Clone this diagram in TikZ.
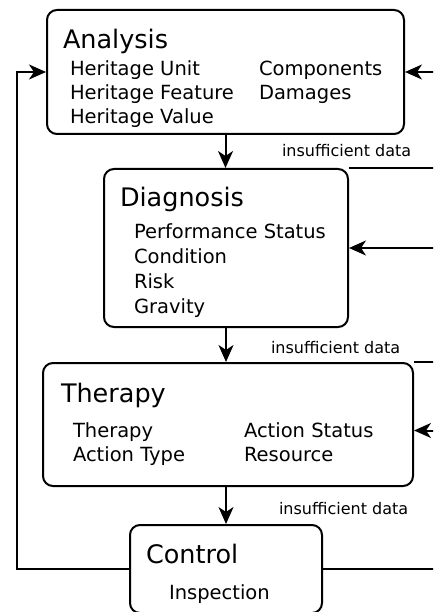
\documentclass[tikz,border=0pt]{standalone}
\usepackage{fontspec}
\setmainfont{DejaVu Sans}
\usetikzlibrary{arrows.meta,positioning}

\begin{document}
\begin{tikzpicture}[x=1pt,y=-1pt,line width=2pt,
phase/.style={draw,rounded corners=10pt,inner sep=0pt},
title/.style={anchor=base west,inner sep=0pt,font=\fontsize{25.5}{28}\selectfont},
item/.style={anchor=base west,inner sep=0pt,font=\fontsize{19.5}{22}\selectfont},
note/.style={anchor=base west,inner sep=0pt,font=\fontsize{16}{18}\selectfont},
flow/.style={-{Stealth[length=17pt,width=15pt,inset=5pt]}}]
\useasboundingbox (0,0) rectangle (433,612);
\clip (0,0) rectangle (433,612);
% phases
\node[phase,minimum width=357pt,minimum height=124pt] (analysis) at (225.5,72) {};
\node[phase,minimum width=244pt,minimum height=158pt] (diagnosis) at (226,248) {};
\node[phase,minimum width=370pt,minimum height=123pt] (therapy) at (228,424.5) {};
\node[phase,minimum width=192pt,minimum height=88pt] (control) at (226,569) {};
% texts
\node[title] (tA) at (62,49) {Analysis};
\foreach \t [count=\i] in {Heritage Unit,Heritage Feature,Heritage Value}
    \node[item] (a\i) at (69,52+24*\i) {\t};
\node[item] (a4) at (258,76) {Components};
\node[item] (a5) at (258,100) {Damages};
\node[title] (tD) at (119,207) {Diagnosis};
\foreach \t [count=\i] in {Performance Status,Condition,Risk,Gravity}
    \node[item] (d\i) at (133,213+25*\i) {\t};
\node[title] (tT) at (60,402) {Therapy};
\node[item] (t1) at (72,437) {Therapy};
\node[item] (t2) at (72,461) {Action Type};
\node[item] (t3) at (243,437) {Action Status};
\node[item] (t4) at (243,461) {Resource};
\node[title] (tC) at (145,563) {Control};
\node[item] (c1) at (168,599) {Inspection};
\node[note] (n1) at (281,157) {insufficient data};
\node[note] (n2) at (270,353) {insufficient data};
\node[note] (n3) at (278,514) {insufficient data};
% connectors
\draw[flow] (analysis.south) -- (analysis.south |- diagnosis.north);
\draw[flow] (diagnosis.south) -- (diagnosis.south |- therapy.north);
\draw[flow] (control.north |- therapy.south) -- (control.north);
\coordinate (tin) at ([yshift=-6pt]therapy.east);
\draw[flow] (diagnosis.north east) -- ++(110,0) |- (analysis.east);
\draw[flow] (therapy.north east) -- ++(40,0) |- (diagnosis.east);
\draw[flow] (control.east) -- ++(140,0) |- (tin);
\draw[flow] (control.west) -| (17,72) -- (analysis.west);
\end{tikzpicture}
\end{document}
